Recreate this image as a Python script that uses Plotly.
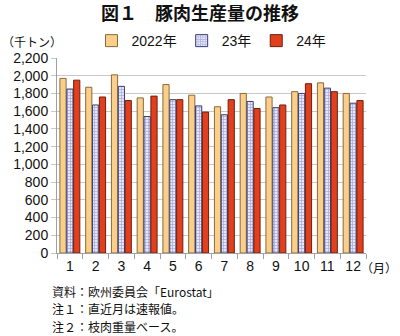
import plotly.graph_objects as go

months = ["1", "2", "3", "4", "5", "6", "7", "8", "9", "10", "11", "12"]
pork_2022 = [1970, 1870, 2010, 1750, 1900, 1780, 1650, 1800, 1760, 1820, 1920, 1800]
pork_2023 = [1850, 1670, 1880, 1540, 1730, 1660, 1560, 1710, 1640, 1800, 1860, 1690]
pork_2024 = [1950, 1760, 1720, 1770, 1730, 1590, 1730, 1630, 1670, 1910, 1820, 1720]
series_names = ["2022年", "23年", "24年"]
y_ticks = [0, 200, 400, 600, 800, 1000, 1200, 1400, 1600, 1800, 2000, 2200]

FONT = "Liberation Sans, Arial, Noto Sans CJK JP, sans-serif"
JP = "Noto Sans CJK JP, sans-serif"

fig = go.Figure()
fig.add_trace(go.Bar(
    x=months, y=pork_2022, name=series_names[0],
    marker=dict(color="#f9cf8b", line=dict(color="#8a6a3a", width=1)),
))
fig.add_trace(go.Bar(
    x=months, y=pork_2023, name=series_names[1],
    marker=dict(color="#c7caee", line=dict(color="#3c3f70", width=1),
                pattern=dict(shape="+", size=3, solidity=0.45,
                             fgcolor="#6d73c4", bgcolor="#e6e7f8")),
))
fig.add_trace(go.Bar(
    x=months, y=pork_2024, name=series_names[2],
    marker=dict(color="#e2401d", line=dict(color="#6a2010", width=1)),
))

fig.update_layout(
    width=400, height=336,
    margin=dict(l=57, r=34, t=58, b=83),
    paper_bgcolor="white", plot_bgcolor="white",
    barmode="group", bargap=0.2, bargroupgap=0.1,
    font=dict(family=FONT, size=14, color="#111"),
    showlegend=True,
    legend=dict(orientation="h", x=0.5, xanchor="center", y=1.005, yanchor="bottom",
                font=dict(family=FONT, size=14), itemwidth=30,
                traceorder="normal", bgcolor="rgba(0,0,0,0)"),
    title=dict(text="<b>図１　豚肉生産量の推移</b>", x=0.5, xanchor="center",
               y=0.958, yanchor="middle", font=dict(family=JP, size=18, color="#111")),
)
fig.update_yaxes(
    range=[0, 2200], tickvals=y_ticks, tickformat=",",
    showgrid=True, gridcolor="#c8c8c8", gridwidth=1,
    showline=True, linecolor="#a0a0a0", linewidth=1,
    ticks="outside", ticklen=5, tickcolor="#c8c8c8",
    tickfont=dict(size=14), zeroline=False,
)
fig.update_xaxes(
    showline=True, linecolor="#a0a0a0", linewidth=1,
    ticks="outside", ticklen=5, tickcolor="#a0a0a0", tickson="boundaries",
    tickfont=dict(size=14), showgrid=False,
)

fig.add_annotation(text="（千トン）", xref="paper", yref="paper", x=-0.185, y=1.085,
                   xanchor="left", yanchor="middle", showarrow=False,
                   font=dict(family=JP, size=12))
fig.add_annotation(text="（月）", xref="paper", yref="paper", x=1.108, y=-0.075,
                   xanchor="right", yanchor="middle", showarrow=False,
                   font=dict(family=JP, size=12))
notes = ["資料：欧州委員会「Eurostat」", "注１：直近月は速報値。", "注２：枝肉重量ベース。"]
for i, line in enumerate(notes):
    fig.add_annotation(text=line, xref="paper", yref="paper", x=-0.023,
                       y=-0.195 - i * 0.09, xanchor="left", yanchor="middle",
                       showarrow=False, font=dict(family=JP, size=12))

fig.write_html("out.html")
